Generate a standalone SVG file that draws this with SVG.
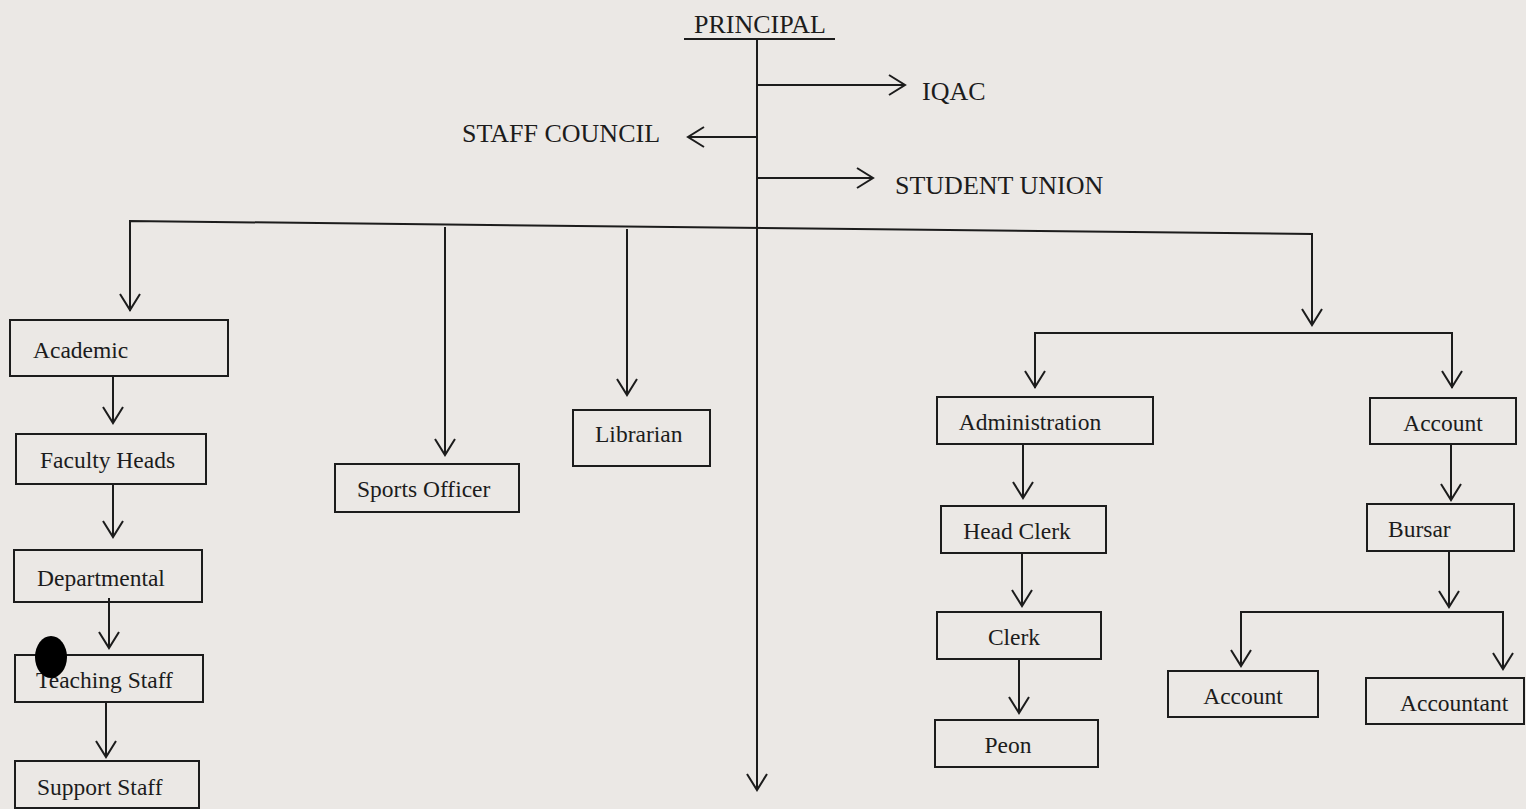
<svg xmlns="http://www.w3.org/2000/svg" width="1526" height="809" viewBox="0 0 1526 809">
<defs>
<marker id="arr" markerUnits="userSpaceOnUse" markerWidth="20" markerHeight="22" refX="17" refY="11" orient="auto" viewBox="0 0 20 22">
<path d="M1,1 L17,11 L1,21" fill="none" stroke="#1c1c1c" stroke-width="2"/>
</marker>
</defs>
<style>
.bg{fill:#ebe8e5}
.box{fill:none;stroke:#1c1c1c;stroke-width:2}
.ln{fill:none;stroke:#1c1c1c;stroke-width:2}
.ar{fill:none;stroke:#1c1c1c;stroke-width:2;marker-end:url(#arr)}
text{font-family:"Liberation Serif","Times New Roman",serif;fill:#1c1c1c}
.big{font-size:26px}
.lbl{font-size:23.5px}
.c{text-anchor:middle}
</style>
<rect class="bg" x="0" y="0" width="1526" height="809"/>

<g id="principal">
<text class="big c" x="760" y="33">PRINCIPAL</text>
<line class="ln" x1="684" y1="39" x2="835" y2="39"/>
</g>
<g id="iqac"><text class="big" x="922" y="100">IQAC</text></g>
<g id="staff-council"><text class="big" x="462" y="142">STAFF COUNCIL</text></g>
<g id="student-union"><text class="big" x="895" y="194">STUDENT UNION</text></g>

<g id="academic"><rect class="box" x="10" y="320" width="218" height="56"/><text class="lbl" x="33" y="358">Academic</text></g>
<g id="faculty-heads"><rect class="box" x="16" y="434" width="190" height="50"/><text class="lbl" x="40" y="468">Faculty Heads</text></g>
<g id="departmental"><rect class="box" x="14" y="550" width="188" height="52"/><text class="lbl" x="37" y="586">Departmental</text></g>
<g id="teaching-staff"><rect class="box" x="15" y="655" width="188" height="47"/><text class="lbl" x="36" y="688">Teaching Staff</text></g>
<ellipse cx="51" cy="657" rx="16" ry="21" fill="#000"/>
<g id="support-staff"><rect class="box" x="15" y="761" width="184" height="47"/><text class="lbl" x="37" y="795">Support Staff</text></g>

<g id="sports-officer"><rect class="box" x="335" y="464" width="184" height="48"/><text class="lbl" x="357" y="497">Sports Officer</text></g>
<g id="librarian"><rect class="box" x="573" y="410" width="137" height="56"/><text class="lbl" x="595" y="442">Librarian</text></g>

<g id="administration"><rect class="box" x="937" y="397" width="216" height="47"/><text class="lbl c" x="1030" y="430">Administration</text></g>
<g id="head-clerk"><rect class="box" x="941" y="506" width="165" height="47"/><text class="lbl c" x="1017" y="539">Head Clerk</text></g>
<g id="clerk"><rect class="box" x="937" y="612" width="164" height="47"/><text class="lbl c" x="1014" y="645">Clerk</text></g>
<g id="peon"><rect class="box" x="935" y="720" width="163" height="47"/><text class="lbl c" x="1008" y="753">Peon</text></g>

<g id="account"><rect class="box" x="1370" y="398" width="146" height="46"/><text class="lbl c" x="1443" y="431">Account</text></g>
<g id="bursar"><rect class="box" x="1367" y="504" width="147" height="47"/><text class="lbl" x="1388" y="537">Bursar</text></g>
<g id="account-2"><rect class="box" x="1168" y="671" width="150" height="46"/><text class="lbl c" x="1243" y="704">Account</text></g>
<g id="accountant"><rect class="box" x="1366" y="678" width="158" height="46"/><text class="lbl" x="1400" y="711">Accountant</text></g>

<g id="connectors">
<line class="ar" x1="757" y1="39" x2="757" y2="790"/>
<line class="ar" x1="757" y1="85" x2="905" y2="85"/>
<line class="ar" x1="757" y1="137" x2="688" y2="137"/>
<line class="ar" x1="757" y1="178" x2="873" y2="178"/>
<polyline class="ln" points="130,311 130,221 1312,234 1312,240"/>
<line class="ar" x1="130" y1="221" x2="130" y2="310"/>
<line class="ar" x1="445" y1="227" x2="445" y2="455"/>
<line class="ar" x1="627" y1="229" x2="627" y2="395"/>
<line class="ar" x1="1312" y1="234" x2="1312" y2="325"/>
<line class="ar" x1="113" y1="376" x2="113" y2="423"/>
<line class="ar" x1="113" y1="484" x2="113" y2="537"/>
<line class="ar" x1="109" y1="598" x2="109" y2="648"/>
<line class="ar" x1="106" y1="702" x2="106" y2="757"/>
<polyline class="ln" points="1035,388 1035,333 1452,333 1452,388"/>
<line class="ar" x1="1035" y1="333" x2="1035" y2="387"/>
<line class="ar" x1="1452" y1="333" x2="1452" y2="387"/>
<line class="ar" x1="1023" y1="444" x2="1023" y2="498"/>
<line class="ar" x1="1022" y1="553" x2="1022" y2="606"/>
<line class="ar" x1="1019" y1="659" x2="1019" y2="713"/>
<line class="ar" x1="1451" y1="444" x2="1451" y2="500"/>
<line class="ar" x1="1449" y1="551" x2="1449" y2="607"/>
<polyline class="ln" points="1241,666 1241,612 1503,612 1503,669"/>
<line class="ar" x1="1241" y1="612" x2="1241" y2="666"/>
<line class="ar" x1="1503" y1="612" x2="1503" y2="669"/>
</g>
</svg>
